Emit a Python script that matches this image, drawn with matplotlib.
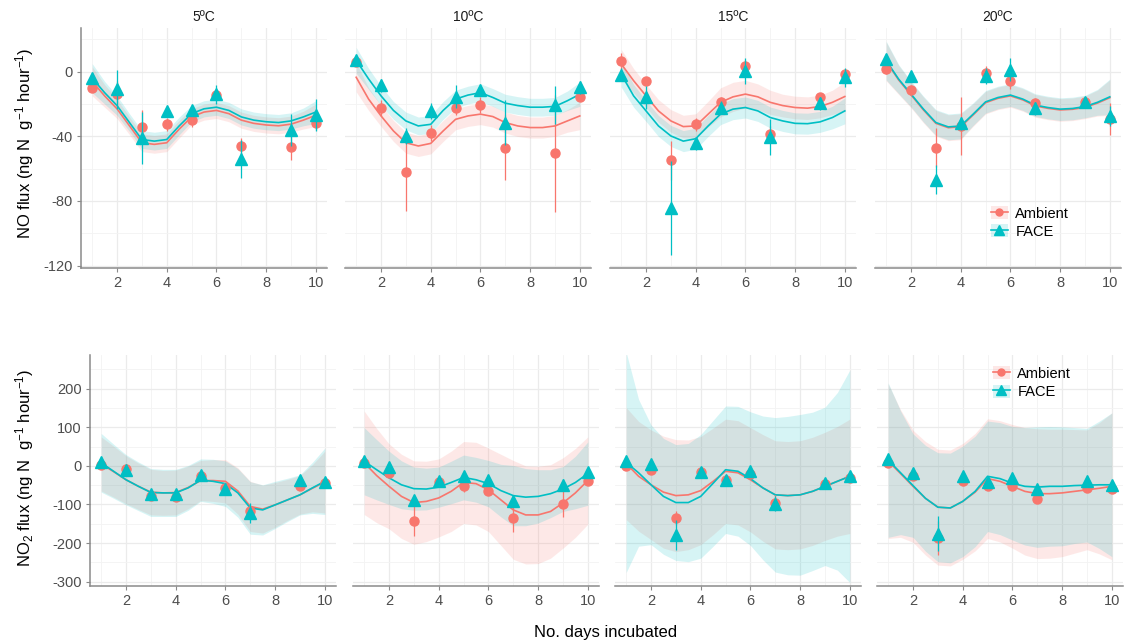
import numpy as np
import matplotlib.pyplot as plt
from matplotlib.lines import Line2D
from matplotlib.patches import Patch
from matplotlib.ticker import MultipleLocator

plt.rcParams['font.family'] = ['Liberation Sans', 'DejaVu Sans']
plt.rcParams['mathtext.fontset'] = 'custom'
plt.rcParams['mathtext.rm'] = 'Liberation Sans'
plt.rcParams['mathtext.it'] = 'Liberation Sans'
plt.rcParams['axes.unicode_minus'] = False

temps = ['5ºC', '10ºC', '15ºC', '20ºC']
days = [1, 2, 3, 4, 5, 6, 7, 9, 10]
fit_days = np.arange(1, 10.01, 0.5)

# ---- NO flux (top row), means and error bars per temperature
no_amb = [[-10, -14, -34, -32.6, -30, -14.5, -46, -46.5, -32],
          [6, -22.6, -62, -38, -22.8, -20.7, -47, -50.6, -15.4],
          [6.8, -5.6, -54.8, -32.6, -19, 3.3, -38.8, -16, -1.5],
          [1.7, -11.2, -47, -33.6, -0.8, -5.6, -19.5, -18.7, -29.5]]
no_amb_err = [[2, 8, 10, 4, 4, 3, 5, 8, 4],
              [2, 5, 24, 5, 4, 5, 20, 36, 3],
              [5, 2, 12, 4, 3, 4, 5, 3, 3],
              [3, 3, 12, 18, 4, 5, 3, 3, 10]]
no_face = [[-4, -11, -41, -24.5, -24, -14, -54, -36, -27],
           [7.3, -8.3, -40, -24.3, -15.4, -11.2, -31.5, -20.7, -9.8],
           [-2, -16, -84.4, -44.4, -22.2, 0.6, -40.5, -19.7, -3.5],
           [7.9, -2.9, -66.8, -32, -2.5, 1.2, -22.8, -18.7, -27.4]]
no_face_err = [[3, 12, 16, 2, 3, 6, 12, 10, 10],
               [2, 4, 5, 5, 7, 3, 14, 12, 4],
               [4, 7, 29, 4, 4, 8, 11, 4, 6],
               [3, 3, 9, 4, 5, 7, 4, 3, 6]]

# smoothed curves (days 1 to 10 in half steps)
no_amb_fit = [[-6, -15, -23, -33.5, -44, -45, -44, -35.6, -28, -25, -24, -26, -30, -32, -33, -33.5, -32.5, -30, -27],
              [-3.5, -17, -27.4, -36.7, -44, -46, -44.4, -36.7, -29.5, -27.4, -26.3, -27.8, -31.5, -33.6, -34.6, -34.6, -33.6, -30.5, -27.4],
              [4.8, -5.6, -15, -24.3, -30.5, -34, -33.6, -26.3, -19, -15.6, -13.9, -15.6, -19, -21, -22.2, -22.6, -21.6, -19, -15.4],
              [6.3, -5.1, -14.4, -23.7, -32, -34.7, -34.1, -26.8, -19.2, -16.5, -15, -17.5, -21.2, -22.7, -23.7, -23.3, -22.1, -19.5, -16.1]]
no_face_fit = [[-4, -13, -21, -31.5, -42, -43, -42, -33.6, -26, -23, -22, -24, -28, -30, -31, -31.5, -30.5, -28, -25],
               [7, -4.5, -15, -24, -30.5, -33.6, -32.6, -24, -17, -14.5, -13, -16, -19.5, -21, -22, -22, -21.5, -18, -14],
               [-1.5, -15, -24.3, -33.6, -39.8, -43, -41.5, -33.6, -26.3, -23.2, -22.2, -24.3, -28.4, -30.5, -32, -32.2, -31.1, -28.4, -24.3],
               [6.8, -4.6, -13.9, -23.2, -31.5, -34.2, -33.6, -26.3, -18.7, -16, -14.5, -17, -20.7, -22.2, -23.2, -22.8, -21.6, -19, -15.6]]
no_amb_band = [[9, 7, 6, 5.5, 5.5, 5.5, 5.5, 5.5, 5, 5, 5, 5, 5, 5, 5, 5, 5, 5.5, 7],
               [9, 7, 6.5, 6.5, 6.5, 6.5, 6.5, 6.5, 6.5, 6.5, 6.5, 6.5, 6.5, 6.5, 6.5, 6.5, 6.5, 7, 8.5],
               [9, 7.5, 7, 7, 7, 7, 7.5, 8, 9, 9, 8.5, 8, 7.5, 7, 7, 7, 7, 7.5, 9],
               [12, 9, 8, 8, 8, 8, 8, 7, 7, 7, 7, 7, 7, 7, 7, 7, 7, 8, 11]]
no_face_band = [[9, 7, 6, 5.5, 5.5, 5.5, 5.5, 5.5, 5, 5, 5, 5, 5, 5, 5, 5, 5, 5.5, 7],
                [8, 6.5, 6, 5.5, 5.5, 5.5, 5.5, 5.5, 5.5, 5.5, 5.5, 5.5, 5.5, 5.5, 5.5, 5.5, 5.5, 6, 7.5],
                [8, 7, 6.5, 6.5, 6.5, 6.5, 6.5, 6.5, 6.5, 6.5, 6.5, 6.5, 6.5, 6.5, 6.5, 6.5, 6.5, 7, 8],
                [12, 9, 8, 8, 8, 8, 8, 7, 7, 7, 7, 7, 7, 7, 7, 7, 7, 8, 11]]

# ---- NO2 flux (bottom row)
no2_amb = [[3, -8, -77, -81, -25, -57, -118, -51, -44],
           [8, -18, -142, -43, -53, -64, -135, -98, -38],
           [0, -10, -135, -17, -36, -20, -95, -46, -31],
           [8, -27, -187, -40, -53, -51, -86, -57, -60]]
no2_amb_err = [[8, 8, 10, 8, 8, 8, 12, 8, 8],
               [8, 8, 40, 8, 15, 12, 35, 35, 10],
               [8, 8, 18, 8, 8, 8, 20, 8, 8],
               [8, 8, 45, 8, 8, 8, 8, 8, 8]]
no2_face = [[9, -10, -72, -72, -23, -60, -122, -36, -43],
            [13, -3, -88, -38, -27, -36, -90, -49, -17],
            [12, 6, -179, -17, -36, -12, -98, -44, -27],
            [18, -18, -176, -27, -43, -31, -60, -38, -49]]
no2_face_err = [[8, 8, 12, 10, 10, 8, 25, 12, 10],
                [8, 8, 12, 10, 10, 12, 15, 15, 10],
                [8, 8, 40, 8, 8, 10, 20, 10, 8],
                [8, 8, 45, 8, 10, 8, 8, 8, 8]]

no2_amb_fit = [[5, -15, -36, -53, -68, -70, -69, -56, -38, -38, -40, -65, -105, -112, -101, -88, -75, -58, -42],
               [8, -25, -53, -79, -95, -92, -83, -66, -43, -46, -62, -88, -114, -127, -127, -118, -96, -70, -38],
               [6, -27, -49, -68, -77, -75, -64, -40, -14, -18, -36, -57, -75, -77, -75, -66, -53, -40, -27],
               [12, -20, -53, -84, -107, -109, -92, -68, -33, -40, -53, -66, -72, -72, -70, -66, -62, -58, -53]]
no2_face_fit = [[8, -14, -36, -53, -69, -70, -70, -57, -37, -40, -46, -70, -109, -114, -101, -88, -75, -57, -40],
                [12, -10, -31, -49, -59, -60, -55, -43, -30, -36, -46, -64, -77, -81, -79, -72, -60, -43, -20],
                [9, -18, -49, -79, -95, -95, -79, -45, -10, -14, -33, -57, -75, -77, -75, -66, -53, -40, -27],
                [15, -18, -51, -84, -107, -109, -92, -66, -27, -33, -45, -53, -55, -53, -53, -51, -50, -49, -49]]
no2_amb_band = [[70, 66, 62, 60, 59, 58, 58, 55, 52, 54, 56, 60, 65, 62, 58, 53, 50, 61, 80],
                [134, 122, 110, 109, 108, 104, 101, 104, 106, 107, 108, 118, 128, 127, 126, 121, 117, 115, 113],
                [145, 142, 142, 145, 145, 142, 140, 138, 135, 135, 135, 138, 140, 140, 140, 140, 140, 142, 148],
                [200, 165, 145, 147, 150, 150, 150, 152, 155, 157, 160, 165, 168, 167, 165, 160, 155, 170, 190]]
no2_face_band = [[76, 70, 65, 63, 62, 61, 61, 58, 55, 57, 59, 63, 68, 65, 61, 56, 52, 66, 86],
                 [87, 78, 69, 62, 56, 54, 52, 55, 58, 58, 60, 68, 78, 74, 69, 62, 58, 68, 82],
                 [285, 190, 155, 150, 150, 153, 160, 163, 165, 168, 173, 186, 200, 205, 208, 205, 205, 230, 275],
                 [200, 160, 134, 137, 141, 142, 143, 143, 143, 145, 147, 152, 156, 155, 154, 150, 147, 165, 186]]

AMB_COL = '#F8766D'
FACE_COL = '#00BFC4'
AXIS_COL = '#8A8A8A'
W, H = 1124, 644


def draw_panel(ax, amb, amb_err, face, face_err, amb_fit, face_fit, amb_band, face_band):
    a_fit = np.array(amb_fit)
    f_fit = np.array(face_fit)
    ax.fill_between(fit_days, a_fit - np.array(amb_band), a_fit + np.array(amb_band),
                    color=AMB_COL, alpha=0.16, lw=0, zorder=1)
    ax.fill_between(fit_days, f_fit - np.array(face_band), f_fit + np.array(face_band),
                    color=FACE_COL, alpha=0.16, lw=0, zorder=1)
    ax.plot(fit_days, a_fit, color=AMB_COL, lw=1.2, zorder=3)
    ax.plot(fit_days, f_fit, color=FACE_COL, lw=1.2, zorder=3)
    ax.errorbar(days, amb, yerr=amb_err, fmt='o', color=AMB_COL, ms=6.5,
                elinewidth=0.9, capsize=0, zorder=4)
    ax.errorbar(days, face, yerr=face_err, fmt='^', color=FACE_COL, ms=8.5,
                elinewidth=0.9, capsize=0, zorder=5)


def style_axes(ax, first_col, major, minor):
    ax.set_facecolor('white')
    ax.set_xlim(0.55, 10.45)
    ax.xaxis.set_major_locator(MultipleLocator(2))
    ax.xaxis.set_minor_locator(MultipleLocator(1))
    ax.yaxis.set_major_locator(MultipleLocator(major))
    ax.yaxis.set_minor_locator(MultipleLocator(minor))
    ax.grid(True, which='major', color='#EBEBEB', lw=0.9, zorder=0)
    ax.grid(True, which='minor', color='#F3F3F3', lw=0.6, zorder=0)
    ax.set_axisbelow(True)
    for s in ['top', 'right']:
        ax.spines[s].set_visible(False)
    ax.spines['bottom'].set_color(AXIS_COL)
    ax.spines['bottom'].set_linewidth(1.1)
    ax.tick_params(which='minor', length=0)
    ax.tick_params(axis='x', which='major', length=3, color=AXIS_COL,
                   labelsize=10.5, labelcolor='#4D4D4D', pad=3)
    if first_col:
        ax.spines['left'].set_color(AXIS_COL)
        ax.spines['left'].set_linewidth(1.1)
        ax.tick_params(axis='y', which='major', length=3, color=AXIS_COL,
                       labelsize=10.5, labelcolor='#4D4D4D', pad=3)
    else:
        ax.spines['left'].set_visible(False)
        ax.tick_params(axis='y', which='major', length=0, labelleft=False)


def add_legend(ax, y):
    handles = [(Patch(facecolor=AMB_COL, alpha=0.16, lw=0),
                Line2D([], [], color=AMB_COL, marker='o', ms=5, lw=1.2)),
               (Patch(facecolor=FACE_COL, alpha=0.16, lw=0),
                Line2D([], [], color=FACE_COL, marker='^', ms=6.5, lw=1.2))]
    ax.legend(handles, ['Ambient', 'FACE'], loc='center', bbox_to_anchor=(0.63, y),
              frameon=False, fontsize=10.5, handlelength=1.2, handleheight=1.0,
              handletextpad=0.5, labelspacing=0.25)


fig = plt.figure(figsize=(W / 100, H / 100), dpi=100)

top_left = [81, 345, 610, 875]
bot_left = [90, 353, 615, 877]
pw = 246

for i in range(4):
    ax = fig.add_axes([top_left[i] / W, 1 - 268 / H, pw / W, 240 / H])
    style_axes(ax, i == 0, 40, 20)
    draw_panel(ax, no_amb[i], no_amb_err[i], no_face[i], no_face_err[i],
               no_amb_fit[i], no_face_fit[i], no_amb_band[i], no_face_band[i])
    ax.set_ylim(-121.5, 27)
    ax.set_title(temps[i], fontsize=10, color='#1A1A1A', pad=5)
    if i == 3:
        add_legend(ax, 0.19)

for i in range(4):
    ax = fig.add_axes([bot_left[i] / W, 1 - 586 / H, pw / W, 231 / H])
    style_axes(ax, i == 0, 100, 50)
    draw_panel(ax, no2_amb[i], no2_amb_err[i], no2_face[i], no2_face_err[i],
               no2_amb_fit[i], no2_face_fit[i], no2_amb_band[i], no2_face_band[i])
    ax.set_ylim(-311, 287)
    if i == 3:
        add_legend(ax, 0.88)

fig.text(25 / W, 1 - 143 / H, 'NO flux (ng N  g$^{-1}$ hour$^{-1}$)',
         rotation=90, ha='center', va='center', fontsize=12)
fig.text(25 / W, 1 - 468 / H, 'NO$_2$ flux (ng N  g$^{-1}$ hour$^{-1}$)',
         rotation=90, ha='center', va='center', fontsize=12)
fig.text(606 / W, 1 - 632 / H, 'No. days incubated', ha='center', va='center', fontsize=12)

fig.savefig('out.png', dpi=100, facecolor='white')
